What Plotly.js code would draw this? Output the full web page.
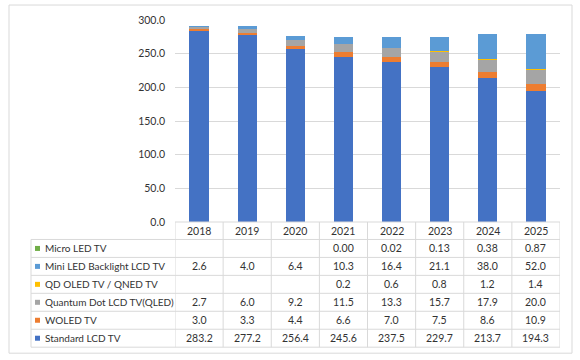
<!DOCTYPE html>
<html><head><meta charset="utf-8">
<script src="https://cdn.plot.ly/plotly-3.0.1.min.js"></script>
<style>html,body{margin:0;padding:0;background:#fff}#c{width:580px;height:360px}</style>
</head><body><div id="c"></div>
<script>
const years = ['2018','2019','2020','2021','2022','2023','2024','2025'];
const seriesNames = ['Micro LED TV','Mini LED Backlight LCD TV','QD OLED TV / QNED TV','Quantum Dot LCD TV(QLED)','WOLED TV','Standard LCD TV'];
const microLED   = [null,null,null,0.00,0.02,0.13,0.38,0.87];
const miniLED    = [2.6,4.0,6.4,10.3,16.4,21.1,38.0,52.0];
const qdOLED     = [null,null,null,0.2,0.6,0.8,1.2,1.4];
const qled       = [2.7,6.0,9.2,11.5,13.3,15.7,17.9,20.0];
const woled      = [3.0,3.3,4.4,6.6,7.0,7.5,8.6,10.9];
const standardLCD= [283.2,277.2,256.4,245.6,237.5,229.7,213.7,194.3];
const yTicks = [0,50,100,150,200,250,300];

const colors = ['#70AD47','#5B9BD5','#FFC000','#A5A5A5','#ED7D31','#4472C4'];
const decimals = [2,1,1,1,1,1];
const seriesVals = [microLED, miniLED, qdOLED, qled, woled, standardLCD];

const ML=175, MR=20, MT=20, MB=137.5, W=580, H=360;
const PW=W-ML-MR, PH=H-MT-MB;
const px = p => (p-ML)/PW;
const py = p => (H-MB-p)/PH;
const FONT = 'Lato, "Open Sans", sans-serif';
const FS = 10.5;
const TXT = '#333333';
const LINE = '#D9D9D9';

const traces = [];
for (let k = seriesVals.length-1; k >= 0; k--) {
  traces.push({type:'bar', x: years, y: seriesVals[k], name: seriesNames[k],
    marker:{color: colors[k], line:{width:0}}, hoverinfo:'skip'});
}

const shapes = [];
const annotations = [];
shapes.push({type:'rect', xref:'paper', yref:'paper', x0:px(9), x1:px(572), y0:py(5), y1:py(354), line:{color:LINE, width:1}});
shapes.push({type:'line', xref:'paper', yref:'paper', x0:0, x1:1, y0:py(222.5), y1:py(222.5), line:{color:LINE, width:1}});
const rowTop = 240, rowH = 18, nRows = seriesNames.length;
const tableBottom = rowTop + rowH*nRows;
for (let r = 0; r <= nRows; r++) {
  const yy = rowTop + r*rowH;
  shapes.push({type:'line', xref:'paper', yref:'paper', x0:px(31), x1:1, y0:py(yy), y1:py(yy), line:{color:LINE, width:1}});
}
shapes.push({type:'line', xref:'paper', yref:'paper', x0:px(31), x1:px(31), y0:py(rowTop), y1:py(tableBottom), line:{color:LINE, width:1}});
for (let i = 0; i <= years.length; i++) {
  shapes.push({type:'line', xref:'x', yref:'paper', x0:i-0.5, x1:i-0.5, y0:py(222.5), y1:py(tableBottom), line:{color:LINE, width:1}});
}
years.forEach((yr,i) => {
  annotations.push({xref:'x', yref:'paper', x:i, y:py(231.5), text:yr, showarrow:false,
    font:{family:FONT, size:FS, color:TXT}, xanchor:'center', yanchor:'middle'});
});
seriesNames.forEach((nm, r) => {
  const cy = rowTop + rowH*r + rowH/2;
  shapes.push({type:'rect', xref:'paper', yref:'paper', x0:px(35), x1:px(40), y0:py(cy-2.5), y1:py(cy+2.5), fillcolor:colors[r], line:{width:0}});
  annotations.push({xref:'paper', yref:'paper', x:px(43), y:py(cy), text:nm, showarrow:false,
    font:{family:FONT, size:10, color:TXT}, xanchor:'left', yanchor:'middle'});
  seriesVals[r].forEach((v,i) => {
    if (v === null) return;
    annotations.push({xref:'x', yref:'paper', x:i, y:py(cy), text:v.toFixed(decimals[r]), showarrow:false,
      font:{family:FONT, size:FS, color:TXT}, xanchor:'center', yanchor:'middle'});
  });
});

const layout = {
  width:W, height:H, margin:{l:ML, r:MR, t:MT, b:MB, pad:0},
  paper_bgcolor:'#fff', plot_bgcolor:'#fff',
  barmode:'stack', bargap:0.6, showlegend:false,
  font:{family:FONT, size:FS, color:TXT},
  xaxis:{type:'category', range:[-0.5,7.5], showticklabels:false, ticks:'', showgrid:false, zeroline:false, showline:false, fixedrange:true},
  yaxis:{range:[0,300], tickvals:yTicks, ticktext:yTicks.map(v=>v.toFixed(1)), showgrid:true, gridcolor:LINE, gridwidth:1,
         zeroline:false, showline:false, ticks:'', ticklabelstandoff:9, tickfont:{family:FONT, size:FS, color:TXT}, fixedrange:true},
  shapes, annotations
};
Plotly.newPlot('c', traces, layout, {displayModeBar:false, staticPlot:true});
</script></body></html>
